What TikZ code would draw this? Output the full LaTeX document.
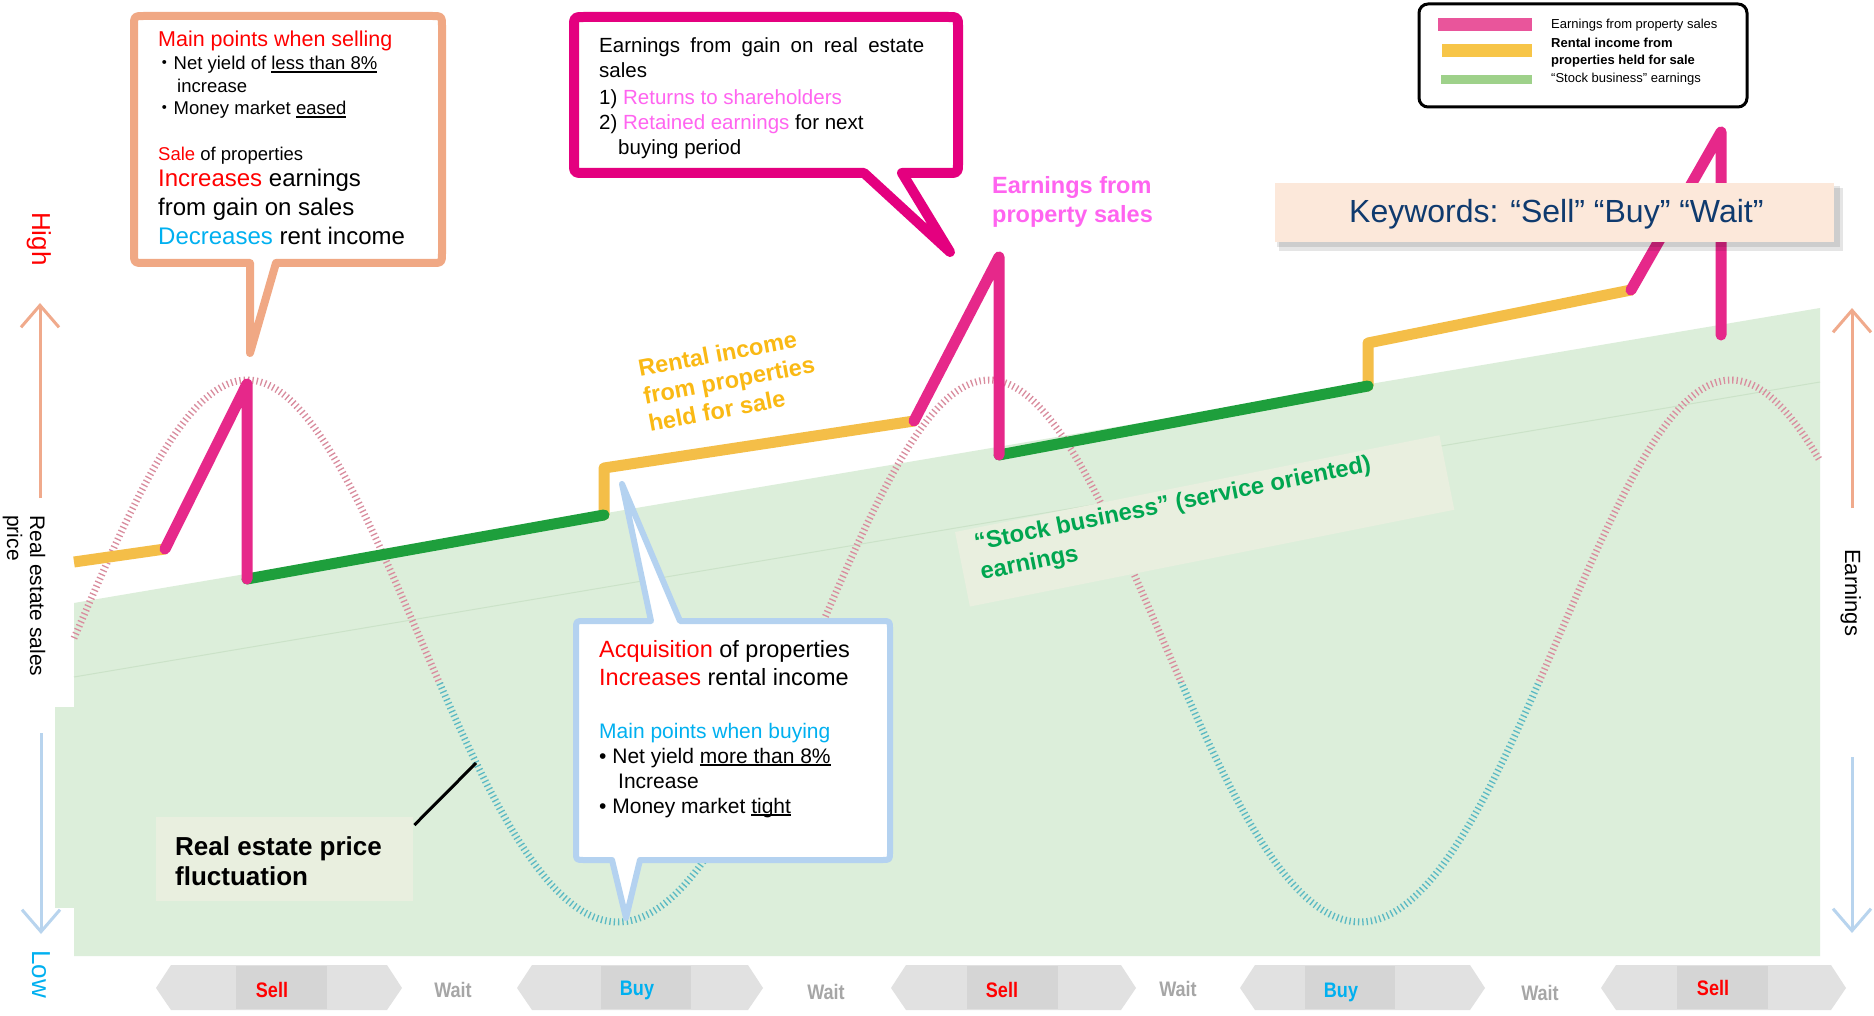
\documentclass[tikz,border=0pt]{standalone}
\usepackage{fontspec}
\setmainfont{Liberation Sans}
\newfontfamily\narrowfont[FakeStretch=0.86]{Liberation Sans}
\newfontfamily\cjkfont{Noto Sans CJK JP}
\usetikzlibrary{arrows.meta,calc}
\definecolor{pinkline}{HTML}{E6288A}
\definecolor{yellowline}{HTML}{F4BE48}
\definecolor{greenline}{HTML}{1E9F3C}
\definecolor{bggreen}{HTML}{DCEEDA}
\definecolor{bgline}{HTML}{CBE2C8}
\definecolor{calloutorange}{HTML}{F0A884}
\definecolor{calloutpink}{HTML}{E4007F}
\definecolor{calloutblue}{HTML}{B4D2F0}
\definecolor{txtred}{HTML}{FF0000}
\definecolor{txtcyan}{HTML}{00B0F0}
\definecolor{txtmag}{HTML}{FF64F0}
\definecolor{rentyellow}{HTML}{FAB914}
\definecolor{stockgreen}{HTML}{00A650}
\definecolor{paleboxfill}{HTML}{E9EFDF}
\definecolor{kwfill}{HTML}{FCE8DA}
\definecolor{kwtext}{HTML}{0F3A6E}
\definecolor{chevfill}{HTML}{E1E1E1}
\definecolor{chevinner}{HTML}{D5D5D5}
\definecolor{waitgrey}{HTML}{A6A6A6}
\definecolor{curvepink}{HTML}{D98C9E}
\definecolor{curveteal}{HTML}{5AB9C3}
\definecolor{arrowup}{HTML}{F0AA8C}
\definecolor{arrowdown}{HTML}{B8D4EE}
\definecolor{legpink}{HTML}{E9559B}
\definecolor{legyellow}{HTML}{F7C548}
\definecolor{leggreen}{HTML}{9ED18A}
\newcommand{\setfs}[1]{\fontsize{#1}{#1}\selectfont}
\newcommand{\setfsl}[2]{\fontsize{#1}{#2}\selectfont}
\newcommand{\ulin}[1]{\setbox0=\hbox{#1}\rlap{\rule[-2.6pt]{\wd0}{1.3pt}}\box0}
\begin{document}
\begin{tikzpicture}[x=1pt,y=-1pt,
  txt/.style={anchor=base west, inner sep=0pt},
  earn/.style={line width=11pt, line cap=round, line join=round},
  axisarrow/.style={line width=3pt, -{Straight Barb[length=22pt,width=38pt]}},
  acttxt/.style={anchor=base, inner sep=0pt, font=\narrowfont\bfseries\setfs{21}},
  curvestyle/.style={line width=7pt, dash pattern=on 1.3pt off 3pt}]
\useasboundingbox (0,0) rectangle (1874,1016);
\fill[white] (0,0) rectangle (1874,1016);

% background band
\fill[bggreen] (74,603) -- (1820,308) -- (1820,956) -- (74,956) -- cycle;
\fill[bggreen] (55,707) rectangle (74,908);
\draw[bgline, line width=1pt] (74,677) -- (1820,382);

% price fluctuation curve
\def\pricecurve{plot[domain=74:1820, samples=320, smooth] (\x, {659 - 271*cos(((\x-247)/742)*360) - 8*cos(((\x-247)/742)*720)})}
\begin{scope}
  \clip (0,0) rectangle (1874,682);
  \draw[curvestyle, curvepink] \pricecurve;
\end{scope}
\begin{scope}
  \clip (0,682) rectangle (1874,1016);
  \draw[curvestyle, curveteal] \pricecurve;
\end{scope}

% earnings line
\coordinate (e0) at (74,562);
\coordinate (e1) at (165,549);
\coordinate (e2) at (247,384);
\coordinate (e3) at (247,579);
\coordinate (e4) at (604,515);
\coordinate (e5) at (604,468);
\coordinate (e6) at (914,421);
\coordinate (e7) at (999,257);
\coordinate (e8) at (999,455);
\coordinate (e9) at (1368,386);
\coordinate (e10) at (1368,343);
\coordinate (e11) at (1631,290);
\coordinate (e12) at (1721,132);
\coordinate (e13) at (1721,335);
\draw[earn, yellowline, line cap=butt] (e0) -- (e1);
\draw[earn, yellowline] (e4) -- (e5) -- (e6);
\draw[earn, yellowline] (e9) -- (e10) -- (e11);
\draw[earn, greenline] (e3) -- (e4);
\draw[earn, greenline] (e8) -- (e9);
\draw[earn, pinkline] (e1) -- (e2) -- (e3);
\draw[earn, pinkline] (e6) -- (e7) -- (e8);
\draw[earn, pinkline] (e11) -- (e12) -- (e13);

% axes
\coordinate (lu0) at (40,498); \coordinate (lu1) at (40,303);
\coordinate (ld0) at (41,733); \coordinate (ld1) at (41,934);
\coordinate (ru0) at (1852,508); \coordinate (ru1) at (1852,308);
\coordinate (rd0) at (1852,757); \coordinate (rd1) at (1852,933);
\draw[axisarrow, arrowup] (lu0) -- (lu1);
\draw[axisarrow, arrowdown] (ld0) -- (ld1);
\draw[axisarrow, arrowup] (ru0) -- (ru1);
\draw[axisarrow, arrowdown] (rd0) -- (rd1);
\node[txt, rotate=-90, text=txtred, font=\setfs{26}] (high) at (32,212) {High};
\node[txt, rotate=-90, text=txtcyan, font=\setfs{26}] (low) at (32,950) {Low};
\node[txt, rotate=-90, font=\setfs{21}] (axl1) at (30,515) {Real estate sales};
\node[txt, rotate=-90, font=\setfs{21}] (axl2) at (7,515) {price};
\node[txt, rotate=-90, font=\setfs{22}] (axr) at (1845,549) {Earnings};

% rental income label (one block)
\node[anchor=center, inner sep=0pt, rotate=10.6, align=left, text=rentyellow,
      font={\bfseries\setfsl{23.5}{28}}] (rent) at (729,380) {Rental income\\from properties\\held for sale};

% earnings from property sales label
\node[anchor=north west, inner sep=0pt, align=left, text=txtmag,
      font={\bfseries\setfsl{23.5}{29}}] (eps) at (992,176) {Earnings from\\property sales};

% stock business box
\begin{scope}[shift={(955,532)}, rotate=11.3, transform shape]
  \fill[paleboxfill] (0,0) rectangle (494,76);
  \node[anchor=north west, inner sep=0pt, align=left, text=stockgreen,
        font={\bfseries\setfsl{23.8}{30}}] (stk) at (17,4.8) {“Stock business” (service oriented)\\earnings};
\end{scope}

% real estate price fluctuation
\node[anchor=north west, fill=paleboxfill, minimum width=257, minimum height=84, inner sep=0pt] (fluct) at (156,817) {};
\node[txt, font=\bfseries\setfs{26}] (fl1) at (175,855) {Real estate price};
\node[txt, font=\bfseries\setfs{26}] (fl2) at (175,885) {fluctuation};
\coordinate (fluctpt) at (476,763);
\draw[line width=3pt] ($(fluct.north east)+(1,8)$) -- (fluctpt);

% orange callout (selling)
\draw[calloutorange, line width=8pt, fill=white, line join=round]
 (144,16) -- (432,16) .. controls (442,16) .. (442,26) -- (442,253) .. controls (442,263) .. (432,263)
 -- (276,263) -- (250,353) -- (250,263) -- (144,263) .. controls (134,263) .. (134,253)
 -- (134,26) .. controls (134,16) .. (144,16) -- cycle;
\node[txt, text=txtred, font=\setfs{21.5}] (s1) at (158,47) {Main points when selling};
\node[txt, font=\setfs{18.5}] (s2) at (155,70) {{\cjkfont ・}Net yield of \ulin{less than 8\%}};
\node[txt, font=\setfs{18.5}] (s3) at (177,93) {increase};
\node[txt, font=\setfs{18.5}] (s4) at (155,115) {{\cjkfont ・}Money market \ulin{eased}};
\node[txt, font=\setfs{18.5}] (s5) at (158,161) {\textcolor{txtred}{Sale} of properties};
\node[txt, font=\setfs{24}] (s6) at (158,187) {\textcolor{txtred}{Increases} earnings};
\node[txt, font=\setfs{24}] (s7) at (158,216) {from gain on sales};
\node[txt, font=\setfs{24}] (s8) at (158,245) {\textcolor{txtcyan}{Decreases} rent income};

% pink callout
\draw[calloutpink, line width=10pt, fill=white, line join=round]
 (584,17) -- (948,17) .. controls (958,17) .. (958,27) -- (958,163) .. controls (958,173) .. (948,173)
 -- (902,173) -- (950,252) -- (864,173) -- (584,173) .. controls (574,173) .. (574,163)
 -- (574,27) .. controls (574,17) .. (584,17) -- cycle;
\node[txt, font=\setfs{20.5}] (p1) at (599,53) {\makebox[325pt][s]{Earnings from gain on real estate}};
\node[txt, font=\setfs{20.5}] (p2) at (599,78) {sales};
\node[txt, font=\setfs{20.5}] (p3) at (599,105) {1) \textcolor{txtmag}{Returns to shareholders}};
\node[txt, font=\setfs{20.5}] (p4) at (599,130) {2) \textcolor{txtmag}{Retained earnings} for next};
\node[txt, font=\setfs{20.5}] (p5) at (618,155) {buying period};

% blue callout (buying)
\draw[calloutblue, line width=6pt, fill=white, line join=round]
 (584,621) -- (651,621) -- (622,484) -- (680,621) -- (882,621) .. controls (890,621) .. (890,629)
 -- (890,852) .. controls (890,860) .. (882,860) -- (640,860) -- (626,918) -- (612,860)
 -- (584,860) .. controls (576,860) .. (576,852) -- (576,629) .. controls (576,621) .. (584,621) -- cycle;
\node[txt, font=\setfs{23.5}] (b1) at (599,657) {\textcolor{txtred}{Acquisition} of properties};
\node[txt, font=\setfs{23.5}] (b2) at (599,685) {\textcolor{txtred}{Increases} rental income};
\node[txt, font=\setfs{21}, text=txtcyan] (b3) at (599,738) {Main points when buying};
\node[txt, font=\setfs{21}] (b4) at (599,763) {• Net yield \ulin{more than 8\%}};
\node[txt, font=\setfs{21}] (b5) at (618,788) {Increase};
\node[txt, font=\setfs{21}] (b6) at (599,813) {• Money market \ulin{tight}};

% legend
\node[draw, line width=3pt, rounded corners=9pt, fill=white, minimum width=328, minimum height=103, inner sep=0pt] (legend) at (1583,55.5) {};
\fill[legpink] (1438,18) rectangle (1532,31);
\fill[legyellow] (1442,44) rectangle (1532,57);
\fill[leggreen] (1441,75) rectangle (1532,84);
\node[txt, font=\setfs{13}] (l1) at (1551,29) {Earnings from property sales};
\node[txt, font=\bfseries\setfs{13}] (l2) at (1551,48) {Rental income from};
\node[txt, font=\bfseries\setfs{13}] (l3) at (1551,65) {properties held for sale};
\node[txt, font=\setfs{13}] (l4) at (1551,83) {“Stock business” earnings};

% keywords box
\fill[black, opacity=0.10] (1279,188) rectangle (1843,251);
\fill[black, opacity=0.10] (1277,186) rectangle (1840,247);
\node[anchor=north west, fill=kwfill, minimum width=559, minimum height=59, inner sep=0pt] (kwbox) at (1275,183) {};
\node[txt, text=kwtext, font=\setfs{32}] (kw) at (1349,223) {Keywords: “Sell” “Buy” “Wait”};

% bottom action row
\foreach \xl/\xr/\ia/\ib/\lab/\col/\lx/\ly [count=\k] in
  {156/402/236/327/Sell/txtred/272/997, 517/763/601/691/Buy/txtcyan/637/995,
   891/1136/967/1058/Sell/txtred/1002/997, 1240/1485/1305/1395/Buy/txtcyan/1341/997,
   1601/1846/1677/1768/Sell/txtred/1713/995}
{
  \fill[chevfill] (\xl,988) -- (\xl+15,965) -- (\xr-15,965) -- (\xr,988) -- (\xr-15,1010) -- (\xl+15,1010) -- cycle;
  \fill[chevinner] (\ia,966) rectangle (\ib,1009);
  \node[acttxt, text=\col] (act\k) at (\lx,\ly) {\lab};
}
\foreach \wx/\wy [count=\k] in {453/997, 826/999, 1178/996, 1540/1000}
{
  \node[acttxt, text=waitgrey] (wait\k) at (\wx,\wy) {Wait};
}
\end{tikzpicture}
\end{document}
